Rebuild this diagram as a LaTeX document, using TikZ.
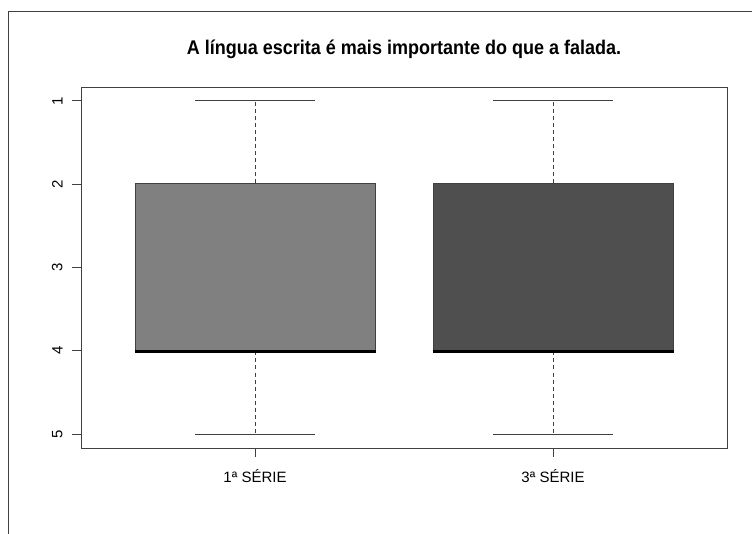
\documentclass[tikz,border=0pt]{standalone}
\usepackage{fontspec}
\setmainfont{Liberation Sans}
\usetikzlibrary{positioning}
\definecolor{boxA}{gray}{0.5}
\definecolor{boxB}{gray}{0.31}
\definecolor{frm}{gray}{0.25}
\begin{document}
\begin{tikzpicture}[x=1pt,y=-1pt,line width=1pt]
\useasboundingbox (0,0) rectangle (752,534);
\draw[frm] (8,534) -- (8,12) -- (752,12);
\node[font=\bfseries\fontsize{18}{20}\selectfont,yscale=1.1] (title) at (404,49) {A língua escrita é mais importante do que a falada.};
\node[draw=frm,minimum width=646pt,minimum height=361pt,inner sep=0,anchor=north west] (frame) at (81,87) {};
\foreach \v [evaluate=\v as \yy using 101+(\v-1)*83.25] in {1,...,5}{
    \coordinate (T-\v) at (81,\yy);
    \draw[frm] (T-\v) -- ++(-9,0);
    \node[rotate=90,anchor=south,inner sep=0,font=\fontsize{15}{17}\selectfont] (L-\v) at (63,\yy) {\v};
  }
\foreach \i/\cx/\col/\lab in {1/255/boxA/1ª SÉRIE,2/553/boxB/3ª SÉRIE}{
    \node[draw=frm,fill=\col,minimum width=240pt,minimum height=167pt,inner sep=0] (B-\i) at (\cx,267.5) {};
    \coordinate (Hi-\i) at (\cx,101);
    \coordinate (Lo-\i) at (\cx,434);
    \draw[frm,dash pattern=on 4pt off 3pt] (B-\i.north) -- (Hi-\i);
    \draw[frm,dash pattern=on 4pt off 3pt] (B-\i.south) -- (Lo-\i);
    \draw[frm] ([xshift=-60pt]Hi-\i) -- ([xshift=60pt]Hi-\i);
    \draw[frm] ([xshift=-60pt]Lo-\i) -- ([xshift=60pt]Lo-\i);
    \draw[line width=2.8pt] (B-\i.south west) -- (B-\i.south east);
    \coordinate (X-\i) at (\cx,448);
    \draw[frm] (X-\i) -- ++(0,9);
    \node[font=\fontsize{15}{17}\selectfont] (N-\i) at (\cx,476) {\lab};
  }
\end{tikzpicture}
\end{document}
